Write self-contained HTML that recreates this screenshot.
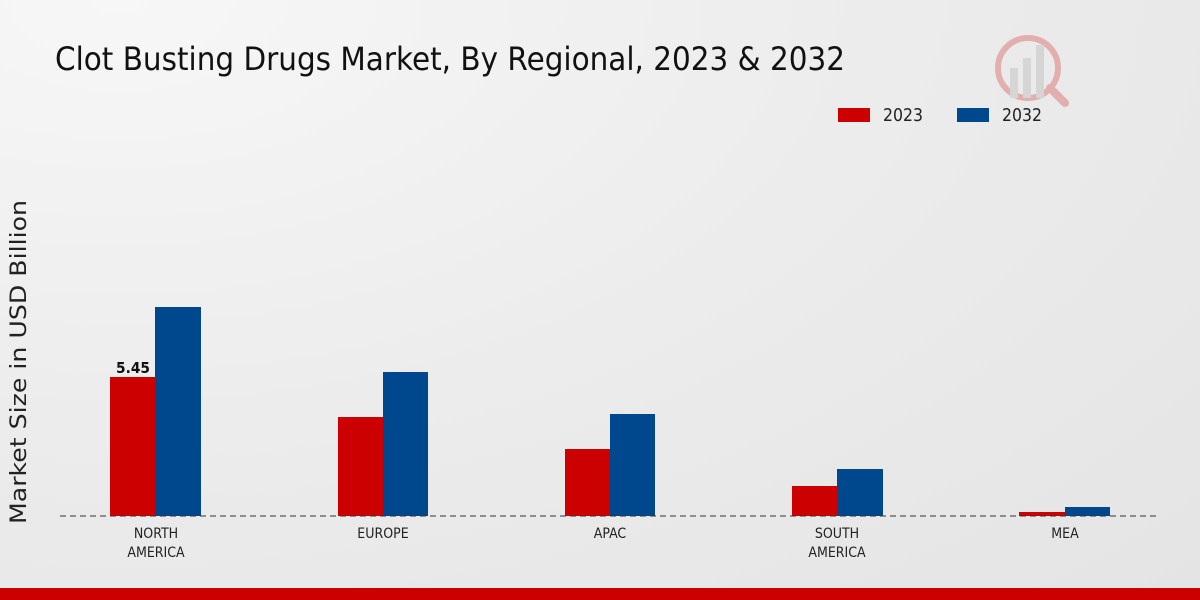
<!DOCTYPE html>
<html><head><meta charset="utf-8"><style>
body{margin:0;width:1200px;height:600px;overflow:hidden;font-family:"DejaVu Sans",sans-serif;}
.bg{position:absolute;left:0;top:0;width:1200px;height:600px;background:radial-gradient(ellipse at 10% 0%,#f7f7f7 0%,#ececec 50%,#e4e4e4 100%);}
</style></head><body><div class="bg"></div>
<svg width="1200" height="600" style="position:absolute;left:0;top:0" font-family="DejaVu Sans, sans-serif">
<text x="55" y="70" font-size="32" fill="#111" textLength="790" lengthAdjust="spacingAndGlyphs">Clot Busting Drugs Market, By Regional, 2023 &amp; 2032</text>
<g opacity="0.25"><circle cx="1028" cy="68" r="30" fill="none" stroke="#c00" stroke-width="6"/><rect x="1010" y="68" width="8" height="30" fill="#999"/><rect x="1023" y="58" width="8" height="40" fill="#999"/><rect x="1036" y="45" width="8" height="53" fill="#999"/><line x1="1050" y1="88" x2="1065" y2="103" stroke="#c00" stroke-width="8" stroke-linecap="round"/></g>
<rect x="838" y="108" width="32" height="14" fill="#cc0000"/><text x="883" y="121" font-size="18" fill="#222" textLength="40" lengthAdjust="spacingAndGlyphs">2023</text>
<rect x="957" y="108" width="32" height="14" fill="#00488d"/><text x="1002" y="121" font-size="18" fill="#222" textLength="40" lengthAdjust="spacingAndGlyphs">2032</text>
<text transform="translate(26,362) rotate(-90)" text-anchor="middle" font-size="22" fill="#222" textLength="324" lengthAdjust="spacingAndGlyphs">Market Size in USD Billion</text>
<g fill="#cc0000"><rect x="110" y="377" width="45" height="139"/><rect x="338" y="417" width="45" height="99"/><rect x="565" y="449" width="45" height="67"/><rect x="792" y="486" width="45" height="30"/><rect x="1019" y="512" width="46" height="4"/></g>
<g fill="#00488d"><rect x="155" y="307" width="46" height="209"/><rect x="383" y="372" width="45" height="144"/><rect x="610" y="414" width="45" height="102"/><rect x="837" y="469" width="46" height="47"/><rect x="1065" y="507" width="45" height="9"/></g>
<line x1="60" y1="516" x2="1160" y2="516" stroke="#333" stroke-dasharray="6,4"/>
<text x="133" y="373" text-anchor="middle" font-size="15" font-weight="bold" fill="#111" textLength="34" lengthAdjust="spacingAndGlyphs">5.45</text>
<g font-size="14" fill="#222" text-anchor="middle" font-stretch="condensed"><text x="156" y="538">NORTH</text><text x="156" y="557">AMERICA</text><text x="383" y="538">EUROPE</text><text x="610" y="538">APAC</text><text x="837" y="538">SOUTH</text><text x="837" y="557">AMERICA</text><text x="1065" y="538">MEA</text></g>
<rect x="0" y="588" width="1200" height="12" fill="#cc0000"/>
</svg></body></html>
